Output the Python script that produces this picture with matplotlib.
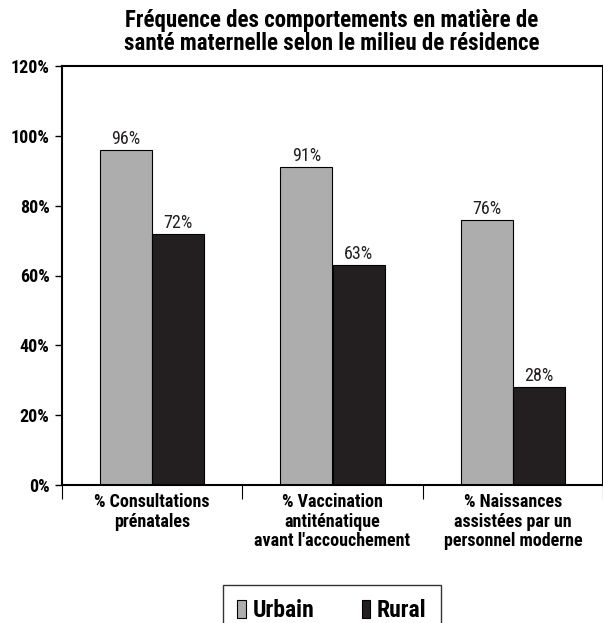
import numpy as np
import matplotlib.pyplot as plt
from matplotlib.ticker import FixedLocator

# donnees
categories = ['% Consultations\nprénatales',
              '% Vaccination\nantiténatique\navant l\'accouchement',
              '% Naissances\nassistées par un\npersonnel moderne']
urbain = [96, 91, 76]
rural = [72, 63, 28]
yticks = [0, 20, 40, 60, 80, 100, 120]

plt.rcParams['font.family'] = ['Roboto Condensed', 'DejaVu Sans']

fig = plt.figure(figsize=(6.03, 6.23), dpi=100)
ax = fig.add_axes([62/603, 1-485/623, 541/603, 419/623])

x = np.arange(len(categories))
w = 0.29
b1 = ax.bar(x - w/2, urbain, w, color='#adadad', edgecolor='black', linewidth=0.8, label='Urbain')
b2 = ax.bar(x + w/2, rural, w, color='#231f20', edgecolor='black', linewidth=0.8, label='Rural')

for bars, vals in [(b1, urbain), (b2, rural)]:
    for r, v in zip(bars, vals):
        ax.text(r.get_x() + r.get_width()/2, v + 0.6, str(v) + '%',
                ha='center', va='bottom', fontsize=13, color='#231f20')

ax.set_xlim(-0.5, 2.5)
ax.set_ylim(0, 120)
ax.set_yticks(yticks)
ax.set_yticklabels([str(t) + '%' for t in yticks], fontsize=13, fontweight='bold')
ax.tick_params(axis='y', length=5, width=1, pad=4)

ax.set_xticks(x)
ax.set_xticklabels(categories, fontsize=13, fontweight='bold', linespacing=1.1)
ax.tick_params(axis='x', which='major', length=0, pad=6)
ax.xaxis.set_minor_locator(FixedLocator([-0.5, 0.5, 1.5, 2.5]))
ax.tick_params(axis='x', which='minor', length=10, width=0.8)

for s in ['left', 'bottom', 'top', 'right']:
    ax.spines[s].set_linewidth(1.5)

fig.text(332/603, 1-32/623,
         'Fréquence des comportements en matière de\nsanté maternelle selon le milieu de résidence',
         ha='center', va='center', fontsize=16.5, fontweight='bold', linespacing=1.05)

leg = fig.legend(loc='upper center', bbox_to_anchor=(332/603, 1-585/623), ncol=2,
                 prop={'size': 17, 'weight': 'bold'}, frameon=True, fancybox=False,
                 edgecolor='black', handlelength=0.35, handleheight=0.85,
                 handletextpad=0.3, columnspacing=2.0, borderpad=0.6,
                 borderaxespad=0)
leg.get_frame().set_linewidth(1.0)

fig.savefig('out.png', dpi=100)
